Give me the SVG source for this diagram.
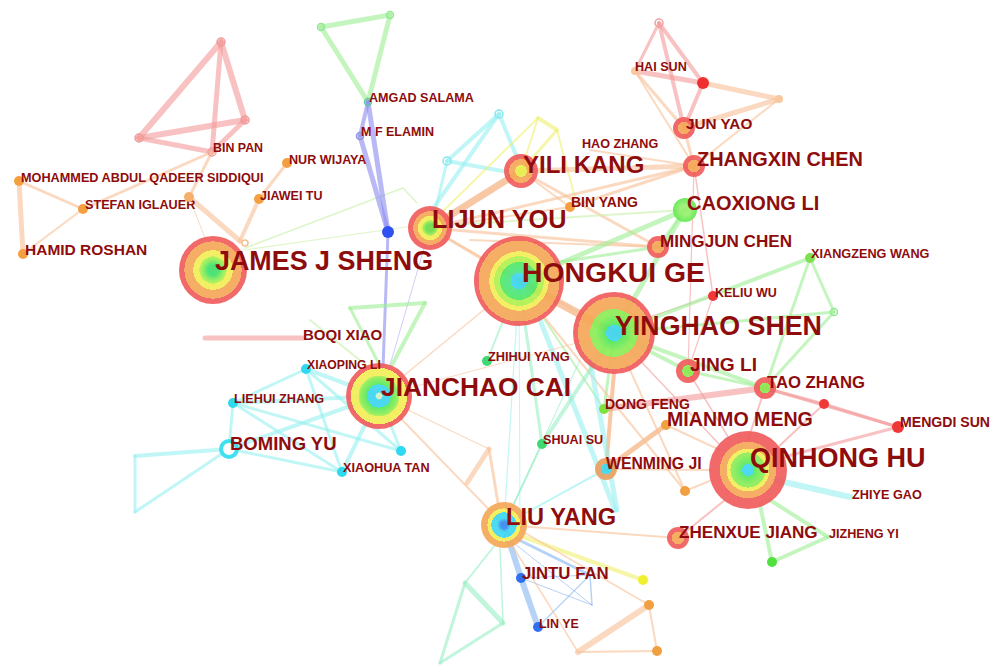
<svg xmlns="http://www.w3.org/2000/svg" width="998" height="666" viewBox="0 0 998 666">
<style>
text{font-family:"Liberation Sans",Arial,sans-serif;font-weight:bold;fill:#8e0c0c}
#edges line,#edges polyline{stroke-linecap:round;fill:none;opacity:0.6}
.pk{stroke:#f39a9a}.or{stroke:#f8c096}.gr{stroke:#9eee94}.cy{stroke:#98f0f0}.bl{stroke:#8a8af0}.mt{stroke:#98eec4}.yl{stroke:#f0f070}.lb{stroke:#86b4f0}.lg{stroke:#c8f0a8}.pu{stroke:#b8a8f0}.dor{stroke:#f2a466}
.big{opacity:0.92}
</style>
<defs>
<radialGradient id="gHK"><stop offset="0.18" stop-color="#3ed6f0"/><stop offset="0.18" stop-color="#4ee48a"/><stop offset="0.42" stop-color="#52e860"/><stop offset="0.42" stop-color="#b2f050"/><stop offset="0.55" stop-color="#b2f050"/><stop offset="0.55" stop-color="#f2ee58"/><stop offset="0.66" stop-color="#f2ee58"/><stop offset="0.66" stop-color="#f5a758"/><stop offset="0.9" stop-color="#f5a758"/><stop offset="0.9" stop-color="#f05c5c"/><stop offset="1" stop-color="#f05c5c"/></radialGradient>
<radialGradient id="gYS"><stop offset="0.2" stop-color="#3ed6f0"/><stop offset="0.2" stop-color="#52e860"/><stop offset="0.45" stop-color="#8cec56"/><stop offset="0.58" stop-color="#8cec56"/><stop offset="0.58" stop-color="#f5a758"/><stop offset="0.88" stop-color="#f5a758"/><stop offset="0.88" stop-color="#f05c5c"/><stop offset="1" stop-color="#f05c5c"/></radialGradient>
<radialGradient id="gQH"><stop offset="0.15" stop-color="#3ed6f0"/><stop offset="0.15" stop-color="#52e860"/><stop offset="0.38" stop-color="#8cec56"/><stop offset="0.45" stop-color="#8cec56"/><stop offset="0.45" stop-color="#f2ee58"/><stop offset="0.55" stop-color="#f2ee58"/><stop offset="0.55" stop-color="#f5a758"/><stop offset="0.72" stop-color="#f5a758"/><stop offset="0.72" stop-color="#f05c5c"/><stop offset="1" stop-color="#f05c5c"/></radialGradient>
<radialGradient id="gJS"><stop offset="0.15" stop-color="#3ee06a"/><stop offset="0.3" stop-color="#8cec56"/><stop offset="0.4" stop-color="#b8f050"/><stop offset="0.4" stop-color="#f2ee58"/><stop offset="0.58" stop-color="#f2ee58"/><stop offset="0.58" stop-color="#f5a758"/><stop offset="0.84" stop-color="#f5a758"/><stop offset="0.84" stop-color="#f05c5c"/><stop offset="1" stop-color="#f05c5c"/></radialGradient>
<radialGradient id="gJC"><stop offset="0.08" stop-color="#d8f0c8"/><stop offset="0.12" stop-color="#3ed6f0"/><stop offset="0.35" stop-color="#3ed6f0"/><stop offset="0.35" stop-color="#52e860"/><stop offset="0.55" stop-color="#8cec56"/><stop offset="0.62" stop-color="#b8f050"/><stop offset="0.62" stop-color="#f2ee58"/><stop offset="0.85" stop-color="#f2ee58"/><stop offset="0.85" stop-color="#f05c5c"/><stop offset="1" stop-color="#f05c5c"/></radialGradient>
<radialGradient id="gLY"><stop offset="0.2" stop-color="#6ee050"/><stop offset="0.35" stop-color="#b8f050"/><stop offset="0.35" stop-color="#f2ee58"/><stop offset="0.55" stop-color="#f2ee58"/><stop offset="0.55" stop-color="#f5a758"/><stop offset="0.76" stop-color="#f5a758"/><stop offset="0.76" stop-color="#f05c5c"/><stop offset="1" stop-color="#f05c5c"/></radialGradient>
<radialGradient id="gYK"><stop offset="0.35" stop-color="#e8f050"/><stop offset="0.35" stop-color="#f5a758"/><stop offset="0.7" stop-color="#f5a758"/><stop offset="0.7" stop-color="#f05c5c"/><stop offset="1" stop-color="#f05c5c"/></radialGradient>
<radialGradient id="gLU"><stop offset="0.15" stop-color="#3a8ef0"/><stop offset="0.3" stop-color="#3ed6f0"/><stop offset="0.55" stop-color="#3ed6f0"/><stop offset="0.55" stop-color="#f2ee58"/><stop offset="0.72" stop-color="#f2ee58"/><stop offset="0.72" stop-color="#f5a758"/><stop offset="1" stop-color="#f5a758"/></radialGradient>
<radialGradient id="gRO"><stop offset="0.35" stop-color="#f5a758"/><stop offset="0.55" stop-color="#f5a758"/><stop offset="0.55" stop-color="#f05c5c"/><stop offset="1" stop-color="#f05c5c"/></radialGradient>
<radialGradient id="gRG"><stop offset="0.5" stop-color="#8ce850"/><stop offset="0.5" stop-color="#f05c5c"/><stop offset="1" stop-color="#f05c5c"/></radialGradient>
<radialGradient id="gG"><stop offset="0.4" stop-color="#9af070"/><stop offset="1" stop-color="#5ee850"/></radialGradient>
<radialGradient id="gWJ"><stop offset="0.5" stop-color="#3ed6f0"/><stop offset="0.5" stop-color="#e8a060"/><stop offset="1" stop-color="#e8a060"/></radialGradient>
</defs>
<rect width="998" height="666" fill="#ffffff"/>
<g id="edges">
<line class="pk" x1="221" y1="42" x2="245" y2="120" stroke-width="6"/>
<line class="pk" x1="221" y1="42" x2="139" y2="138" stroke-width="6"/>
<line class="pk" x1="221" y1="42" x2="212" y2="152" stroke-width="5"/>
<line class="pk" x1="139" y1="138" x2="245" y2="120" stroke-width="6"/>
<line class="pk" x1="139" y1="138" x2="212" y2="152" stroke-width="5"/>
<line class="pk" x1="245" y1="120" x2="212" y2="152" stroke-width="5"/>
<line class="or" x1="212" y1="152" x2="83" y2="209" stroke-width="3"/>
<line class="or" x1="212" y1="152" x2="189" y2="197" stroke-width="3"/>
<line class="or" x1="189" y1="197" x2="240" y2="241" stroke-width="5"/>
<line class="or" x1="189" y1="197" x2="205" y2="238" stroke-width="1"/>
<line class="or" x1="19" y1="181" x2="83" y2="209" stroke-width="3"/>
<line class="or" x1="19" y1="181" x2="23" y2="254" stroke-width="5"/>
<line class="or" x1="83" y1="209" x2="23" y2="254" stroke-width="2"/>
<line class="or" x1="287" y1="163" x2="259" y2="199" stroke-width="3"/>
<line class="or" x1="259" y1="199" x2="240" y2="241" stroke-width="4"/>
<polyline class="lg" points="245,248 403,188 417,203" stroke-width="1.5"/>
<line class="lg" x1="245" y1="250" x2="420" y2="225" stroke-width="1.2"/>
<line class="gr" x1="321" y1="27" x2="390" y2="15" stroke-width="5"/>
<line class="gr" x1="390" y1="15" x2="368" y2="102" stroke-width="5"/>
<line class="gr" x1="368" y1="102" x2="321" y2="27" stroke-width="5"/>
<line class="bl" x1="368" y1="102" x2="360" y2="136" stroke-width="4"/>
<line class="bl" x1="368" y1="102" x2="388" y2="232" stroke-width="5"/>
<line class="bl" x1="360" y1="136" x2="388" y2="232" stroke-width="5"/>
<line class="bl" x1="388" y1="232" x2="383" y2="368" stroke-width="3"/>
<line class="pu" x1="425" y1="245" x2="388" y2="372" stroke-width="1"/>
<line class="cy" x1="499" y1="114" x2="447" y2="161" stroke-width="4"/>
<line class="cy" x1="499" y1="114" x2="432" y2="210" stroke-width="4"/>
<line class="cy" x1="499" y1="114" x2="518" y2="160" stroke-width="4"/>
<line class="cy" x1="447" y1="161" x2="436" y2="208" stroke-width="3"/>
<line class="cy" x1="447" y1="161" x2="508" y2="172" stroke-width="4"/>
<line class="yl" x1="538" y1="118" x2="557" y2="130" stroke-width="4"/>
<line class="yl" x1="538" y1="118" x2="432" y2="222" stroke-width="2"/>
<line class="yl" x1="557" y1="130" x2="521" y2="171" stroke-width="3"/>
<line class="yl" x1="557" y1="130" x2="575" y2="198" stroke-width="2"/>
<line class="yl" x1="538" y1="118" x2="521" y2="171" stroke-width="2"/>
<line class="dor" x1="430" y1="228" x2="521" y2="171" stroke-width="7"/>
<line class="or" x1="521" y1="171" x2="694" y2="166" stroke-width="5"/>
<line class="or" x1="430" y1="228" x2="694" y2="166" stroke-width="3"/>
<line class="or" x1="430" y1="228" x2="570" y2="207" stroke-width="2"/>
<line class="or" x1="521" y1="171" x2="570" y2="207" stroke-width="2"/>
<line class="or" x1="570" y1="207" x2="694" y2="166" stroke-width="3"/>
<line class="or" x1="521" y1="171" x2="658" y2="247" stroke-width="3"/>
<line class="or" x1="430" y1="228" x2="658" y2="247" stroke-width="3"/>
<line class="or" x1="590" y1="150" x2="694" y2="166" stroke-width="2"/>
<line class="or" x1="694" y1="166" x2="684" y2="128" stroke-width="3"/>
<line class="or" x1="694" y1="166" x2="779" y2="99" stroke-width="2"/>
<line class="or" x1="684" y1="128" x2="779" y2="99" stroke-width="5"/>
<line class="or" x1="684" y1="128" x2="635" y2="71" stroke-width="3"/>
<line class="or" x1="635" y1="71" x2="694" y2="166" stroke-width="2"/>
<line class="or" x1="703" y1="83" x2="779" y2="99" stroke-width="5"/>
<line class="pk" x1="635" y1="71" x2="703" y2="83" stroke-width="5"/>
<line class="pk" x1="659" y1="23" x2="635" y2="71" stroke-width="3"/>
<line class="pk" x1="659" y1="23" x2="703" y2="83" stroke-width="4"/>
<line class="pk" x1="659" y1="23" x2="684" y2="128" stroke-width="4"/>
<line class="pk" x1="703" y1="83" x2="684" y2="128" stroke-width="4"/>
<line class="pk" x1="694" y1="166" x2="713" y2="296" stroke-width="1.5"/>
<line class="pk" x1="694" y1="166" x2="688" y2="371" stroke-width="1.2"/>
<line class="pk" x1="713" y1="296" x2="688" y2="371" stroke-width="1.2"/>
<line class="pk" x1="713" y1="296" x2="640" y2="320" stroke-width="1.2"/>
<line class="or" x1="470" y1="240" x2="658" y2="247" stroke-width="2"/>
<line class="gr" x1="519" y1="281" x2="685" y2="210" stroke-width="5"/>
<line class="gr" x1="614" y1="333" x2="685" y2="210" stroke-width="5"/>
<line class="gr" x1="540" y1="265" x2="658" y2="247" stroke-width="3"/>
<line class="gr" x1="685" y1="210" x2="658" y2="247" stroke-width="3"/>
<line class="lg" x1="450" y1="225" x2="685" y2="210" stroke-width="2"/>
<line class="gr" x1="614" y1="333" x2="810" y2="258" stroke-width="4"/>
<line class="gr" x1="810" y1="258" x2="834" y2="312" stroke-width="3"/>
<line class="gr" x1="810" y1="258" x2="765" y2="388" stroke-width="3"/>
<line class="gr" x1="834" y1="312" x2="765" y2="388" stroke-width="3"/>
<line class="gr" x1="614" y1="333" x2="834" y2="312" stroke-width="3"/>
<line class="gr" x1="614" y1="333" x2="688" y2="371" stroke-width="4"/>
<line class="gr" x1="614" y1="333" x2="765" y2="388" stroke-width="4"/>
<line class="gr" x1="688" y1="371" x2="765" y2="388" stroke-width="3"/>
<line class="gr" x1="614" y1="333" x2="604" y2="409" stroke-width="3"/>
<line class="gr" x1="519" y1="281" x2="604" y2="409" stroke-width="2"/>
<line class="pk" x1="765" y1="388" x2="824" y2="404" stroke-width="3"/>
<line class="pk" x1="765" y1="388" x2="898" y2="427" stroke-width="3"/>
<line class="pk" x1="824" y1="404" x2="898" y2="427" stroke-width="3"/>
<line class="pk" x1="824" y1="404" x2="775" y2="450" stroke-width="2"/>
<line class="pk" x1="898" y1="427" x2="780" y2="458" stroke-width="3"/>
<line class="pk" x1="765" y1="388" x2="748" y2="440" stroke-width="2"/>
<line class="pk" x1="765" y1="388" x2="604" y2="409" stroke-width="6"/>
<line class="pk" x1="688" y1="371" x2="730" y2="440" stroke-width="1.5"/>
<line class="pk" x1="614" y1="333" x2="720" y2="445" stroke-width="1.5"/>
<line class="cy" x1="775" y1="480" x2="850" y2="497" stroke-width="6"/>
<line class="gr" x1="760" y1="505" x2="772" y2="562" stroke-width="4"/>
<line class="gr" x1="770" y1="500" x2="828" y2="537" stroke-width="4"/>
<line class="gr" x1="828" y1="537" x2="772" y2="562" stroke-width="4"/>
<line class="pk" x1="725" y1="500" x2="678" y2="538" stroke-width="2"/>
<line class="or" x1="666" y1="425" x2="720" y2="450" stroke-width="2"/>
<line class="or" x1="606" y1="469" x2="712" y2="470" stroke-width="2"/>
<line class="or" x1="685" y1="491" x2="712" y2="480" stroke-width="2"/>
<line class="dor" x1="606" y1="469" x2="666" y2="425" stroke-width="5"/>
<line class="dor" x1="614" y1="372" x2="606" y2="469" stroke-width="4"/>
<line class="or" x1="630" y1="370" x2="685" y2="491" stroke-width="2"/>
<line class="or" x1="545" y1="318" x2="685" y2="491" stroke-width="2"/>
<line class="cy" x1="606" y1="469" x2="504" y2="525" stroke-width="2"/>
<line class="or" x1="504" y1="525" x2="678" y2="538" stroke-width="2"/>
<line class="cy" x1="540" y1="320" x2="615" y2="510" stroke-width="5"/>
<line class="cy" x1="590" y1="360" x2="617" y2="510" stroke-width="5"/>
<line class="cy" x1="519" y1="281" x2="504" y2="525" stroke-width="1.2"/>
<line class="cy" x1="519" y1="281" x2="520" y2="520" stroke-width="1"/>
<line class="mt" x1="519" y1="281" x2="542" y2="444" stroke-width="3"/>
<line class="mt" x1="614" y1="333" x2="542" y2="444" stroke-width="4"/>
<line class="mt" x1="542" y1="444" x2="504" y2="525" stroke-width="2"/>
<line class="mt" x1="519" y1="281" x2="487" y2="361" stroke-width="2"/>
<line class="mt" x1="580" y1="360" x2="504" y2="525" stroke-width="1.2"/>
<line class="or" x1="519" y1="281" x2="379" y2="396" stroke-width="1.5"/>
<line class="or" x1="614" y1="333" x2="379" y2="396" stroke-width="1"/>
<line class="dor" x1="519" y1="281" x2="614" y2="333" stroke-width="8"/>
<line class="or" x1="430" y1="228" x2="519" y2="281" stroke-width="3"/>
<line class="or" x1="430" y1="228" x2="614" y2="333" stroke-width="2"/>
<line class="or" x1="379" y1="396" x2="504" y2="525" stroke-width="2"/>
<line class="or" x1="379" y1="396" x2="489" y2="449" stroke-width="1.2"/>
<line class="or" x1="489" y1="449" x2="467" y2="483" stroke-width="5"/>
<line class="or" x1="489" y1="449" x2="498" y2="503" stroke-width="3"/>
<line class="gr" x1="350" y1="308" x2="425" y2="303" stroke-width="4"/>
<line class="gr" x1="425" y1="303" x2="392" y2="365" stroke-width="4"/>
<line class="gr" x1="350" y1="308" x2="380" y2="366" stroke-width="3"/>
<line class="lg" x1="310" y1="320" x2="372" y2="370" stroke-width="2"/>
<line class="pk" x1="205" y1="338" x2="303" y2="338" stroke-width="5"/>
<line class="cy" x1="379" y1="396" x2="306" y2="369" stroke-width="4"/>
<line class="cy" x1="379" y1="396" x2="233" y2="403" stroke-width="4"/>
<line class="cy" x1="379" y1="396" x2="229" y2="449" stroke-width="4"/>
<line class="cy" x1="379" y1="396" x2="342" y2="472" stroke-width="4"/>
<line class="cy" x1="379" y1="396" x2="401" y2="451" stroke-width="3"/>
<line class="cy" x1="306" y1="369" x2="233" y2="403" stroke-width="3"/>
<line class="cy" x1="306" y1="369" x2="342" y2="472" stroke-width="3"/>
<line class="cy" x1="306" y1="369" x2="401" y2="451" stroke-width="3"/>
<line class="cy" x1="233" y1="403" x2="229" y2="449" stroke-width="3"/>
<line class="cy" x1="233" y1="403" x2="401" y2="451" stroke-width="3"/>
<line class="cy" x1="229" y1="449" x2="342" y2="472" stroke-width="3"/>
<line class="cy" x1="233" y1="403" x2="342" y2="472" stroke-width="3"/>
<line class="cy" x1="229" y1="449" x2="135" y2="456" stroke-width="4"/>
<line class="cy" x1="135" y1="456" x2="135" y2="512" stroke-width="3"/>
<line class="cy" x1="135" y1="512" x2="229" y2="449" stroke-width="3"/>
<line class="lb" x1="504" y1="525" x2="521" y2="578" stroke-width="6"/>
<line class="lb" x1="521" y1="578" x2="538" y2="627" stroke-width="6"/>
<line class="lb" x1="521" y1="578" x2="590" y2="575" stroke-width="1"/>
<line class="lb" x1="521" y1="578" x2="592" y2="605" stroke-width="1"/>
<line class="lb" x1="590" y1="575" x2="592" y2="605" stroke-width="1.5"/>
<line class="lb" x1="538" y1="627" x2="590" y2="575" stroke-width="1.2"/>
<line class="lb" x1="515" y1="538" x2="590" y2="575" stroke-width="3"/>
<line class="lb" x1="510" y1="540" x2="592" y2="605" stroke-width="1"/>
<line class="yl" x1="518" y1="535" x2="643" y2="580" stroke-width="4"/>
<line class="or" x1="520" y1="530" x2="649" y2="605" stroke-width="1.5"/>
<line class="or" x1="649" y1="605" x2="657" y2="651" stroke-width="2"/>
<line class="or" x1="657" y1="651" x2="578" y2="652" stroke-width="2"/>
<line class="or" x1="578" y1="652" x2="649" y2="605" stroke-width="6"/>
<line class="or" x1="512" y1="545" x2="578" y2="652" stroke-width="1.5"/>
<line class="mt" x1="495" y1="545" x2="465" y2="583" stroke-width="2"/>
<line class="mt" x1="465" y1="583" x2="503" y2="623" stroke-width="5"/>
<line class="mt" x1="503" y1="623" x2="440" y2="663" stroke-width="3"/>
<line class="mt" x1="465" y1="583" x2="440" y2="663" stroke-width="3"/>
<line class="mt" x1="500" y1="548" x2="503" y2="623" stroke-width="1.5"/>
</g>
<g id="n-hamid-roshan"><circle cx="23" cy="254" r="5" fill="#f5a040"/><text x="25" y="255" font-size="15.5">HAMID ROSHAN</text></g>
<g id="n-mohammed"><circle cx="19" cy="181" r="5" fill="#f5a040"/><text x="21" y="182" font-size="12.7">MOHAMMED ABDUL QADEER SIDDIQUI</text></g>
<g id="n-stefan-iglauer"><circle cx="83" cy="209" r="5" fill="#f5a040"/><text x="85" y="209" font-size="12.65">STEFAN IGLAUER</text></g>
<g id="n-o1"><circle cx="189" cy="197" r="5" fill="#f5b070"/></g>
<g id="n-bin-pan"><circle cx="212" cy="152" r="4" fill="none" stroke="#f0a0a0" stroke-width="1.5"/><text x="213" y="152" font-size="12.4">BIN PAN</text></g>
<g id="n-p1"><circle cx="221" cy="42" r="4" fill="none" stroke="#f09a9a" stroke-width="1.5"/></g>
<g id="n-p2"><circle cx="245" cy="120" r="4" fill="none" stroke="#f09a9a" stroke-width="1.5"/></g>
<g id="n-p3"><circle cx="139" cy="138" r="4" fill="none" stroke="#f09a9a" stroke-width="1.5"/></g>
<g id="n-nur-wijaya"><circle cx="287" cy="163" r="5" fill="#f5a040"/><text x="289" y="164" font-size="12.6">NUR WIJAYA</text></g>
<g id="n-jiawei-tu"><circle cx="259" cy="199" r="5" fill="#f5a040"/><text x="260" y="200" font-size="12.5">JIAWEI TU</text></g>
<g id="n-o2"><circle cx="245" cy="243" r="3" fill="none" stroke="#f5c090" stroke-width="1.5"/></g>
<g id="n-g1"><circle cx="321" cy="27" r="3.5" fill="none" stroke="#90e890" stroke-width="1.5"/></g>
<g id="n-g2"><circle cx="390" cy="15" r="3.5" fill="none" stroke="#90e890" stroke-width="1.5"/></g>
<g id="n-amgad-salama"><circle cx="368" cy="102" r="3.5" fill="none" stroke="#60c8a0" stroke-width="1.5"/><text x="369" y="102" font-size="12.6">AMGAD SALAMA</text></g>
<g id="n-m-f-elamin"><circle cx="360" cy="136" r="3.5" fill="none" stroke="#9090e0" stroke-width="1.5"/><text x="361" y="136" font-size="12.5">M F ELAMIN</text></g>
<g id="n-b1"><circle cx="388" cy="232" r="6" fill="#3050f0"/></g>
<g id="n-james-j-sheng"><circle class="big" cx="213" cy="270" r="34" fill="url(#gJS)"/><text x="215" y="270" font-size="26.9">JAMES J SHENG</text></g>
<g id="n-c1"><circle cx="499" cy="114" r="4" fill="none" stroke="#80e8f0" stroke-width="1.5"/></g>
<g id="n-c2"><circle cx="447" cy="161" r="4" fill="none" stroke="#80e8f0" stroke-width="1.5"/></g>
<g id="n-lijun-you"><circle class="big" cx="430" cy="228" r="22" fill="url(#gLY)"/><text x="432" y="228" font-size="25.3">LIJUN YOU</text></g>
<g id="n-yili-kang"><circle class="big" cx="521" cy="171" r="17" fill="url(#gYK)"/><text x="523" y="173" font-size="24">YILI KANG</text></g>
<g id="n-hao-zhang"><text x="582" y="148" font-size="12.6">HAO ZHANG</text></g>
<g id="n-bin-yang"><circle cx="570" cy="207" r="5" fill="#f5a040"/><text x="571" y="207" font-size="14">BIN YANG</text></g>
<g id="n-p4"><circle cx="659" cy="23" r="4" fill="none" stroke="#f0a0a0" stroke-width="1.5"/></g>
<g id="n-hai-sun"><circle cx="635" cy="71" r="4" fill="#f8c8a0"/><text x="635" y="71" font-size="12.6">HAI SUN</text></g>
<g id="n-r1"><circle cx="703" cy="83" r="6" fill="#f03030"/></g>
<g id="n-o3"><circle cx="779" cy="99" r="4" fill="#f8c8a0"/></g>
<g id="n-jun-yao"><circle class="big" cx="684" cy="128" r="11" fill="url(#gRO)"/><text x="686" y="129" font-size="15.3">JUN YAO</text></g>
<g id="n-zhangxin-chen"><circle class="big" cx="694" cy="166" r="11" fill="url(#gRO)"/><text x="697" y="166" font-size="19.9">ZHANGXIN CHEN</text></g>
<g id="n-caoxiong-li"><circle class="big" cx="685" cy="210" r="12" fill="url(#gG)"/><text x="687" y="210" font-size="20">CAOXIONG LI</text></g>
<g id="n-mingjun-chen"><circle class="big" cx="658" cy="247" r="11" fill="url(#gRO)"/><text x="660" y="247" font-size="17.1">MINGJUN CHEN</text></g>
<g id="n-xiangzeng-wang"><circle cx="810" cy="258" r="5" fill="#7ee050"/><text x="811" y="258" font-size="12.7">XIANGZENG WANG</text></g>
<g id="n-g3"><circle cx="834" cy="312" r="3.5" fill="none" stroke="#90e890" stroke-width="1.5"/></g>
<g id="n-keliu-wu"><circle cx="713" cy="296" r="5" fill="#f03838"/><text x="715" y="297" font-size="12.5">KELIU WU</text></g>
<g id="n-hongkui-ge"><circle class="big" cx="519" cy="281" r="45" fill="url(#gHK)"/><text x="522" y="282" font-size="28.4">HONGKUI GE</text></g>
<g id="n-yinghao-shen"><circle class="big" cx="614" cy="333" r="41" fill="url(#gYS)"/><text x="615" y="335" font-size="26.8">YINGHAO SHEN</text></g>
<g id="n-jing-li"><circle class="big" cx="688" cy="371" r="12" fill="url(#gRG)"/><text x="690" y="371" font-size="19.2">JING LI</text></g>
<g id="n-tao-zhang"><circle class="big" cx="765" cy="388" r="11" fill="url(#gRG)"/><text x="767" y="388" font-size="16.7">TAO ZHANG</text></g>
<g id="n-r2"><circle cx="824" cy="404" r="5" fill="#f03838"/></g>
<g id="n-mengdi-sun"><circle cx="898" cy="427" r="6" fill="#f03838"/><text x="900" y="427" font-size="14.1">MENGDI SUN</text></g>
<g id="n-dong-feng"><circle cx="604" cy="409" r="5" fill="#80e040"/><text x="605" y="409" font-size="14">DONG FENG</text></g>
<g id="n-mianmo-meng"><circle cx="666" cy="425" r="5" fill="#f0a040"/><text x="667" y="426" font-size="19.6">MIANMO MENG</text></g>
<g id="n-shuai-su"><circle cx="542" cy="444" r="5" fill="#40d870"/><text x="543" y="444" font-size="12.6">SHUAI SU</text></g>
<g id="n-zhihui-yang"><circle cx="487" cy="361" r="5" fill="#40d870"/><text x="488" y="361" font-size="12.8">ZHIHUI YANG</text></g>
<g id="n-wenming-ji"><circle class="big" cx="606" cy="469" r="11" fill="url(#gWJ)"/><text x="606" y="469" font-size="15.8">WENMING JI</text></g>
<g id="n-o4"><circle cx="685" cy="491" r="5" fill="#f0a040"/></g>
<g id="n-qinhong-hu"><circle class="big" cx="748" cy="470" r="39" fill="url(#gQH)"/><text x="750" y="467" font-size="27">QINHONG HU</text></g>
<g id="n-zhiye-gao"><text x="852" y="499" font-size="12.7">ZHIYE GAO</text></g>
<g id="n-jizheng-yi"><text x="829" y="538" font-size="12.6">JIZHENG YI</text></g>
<g id="n-g4"><circle cx="772" cy="562" r="5" fill="#50e040"/></g>
<g id="n-zhenxue-jiang"><circle class="big" cx="678" cy="538" r="11" fill="url(#gRO)"/><text x="679" y="538" font-size="17.1">ZHENXUE JIANG</text></g>
<g id="n-jianchao-cai"><circle class="big" cx="379" cy="396" r="33" fill="url(#gJC)"/><text x="381" y="396" font-size="26.3">JIANCHAO CAI</text></g>
<g id="n-boqi-xiao"><text x="303" y="340" font-size="15">BOQI XIAO</text></g>
<g id="n-xiaoping-li"><circle cx="306" cy="369" r="5" fill="#30d8f0"/><text x="307" y="369" font-size="12.2">XIAOPING LI</text></g>
<g id="n-liehui-zhang"><circle cx="233" cy="403" r="5" fill="#30d8f0"/><text x="234" y="403" font-size="12.7">LIEHUI ZHANG</text></g>
<g id="n-boming-yu"><circle cx="229" cy="449" r="8" fill="#ffffff" stroke="#40e0f0" stroke-width="4"/><text x="230" y="450" font-size="18.5">BOMING YU</text></g>
<g id="n-xiaohua-tan"><circle cx="342" cy="472" r="5" fill="#30d8f0"/><text x="343" y="472" font-size="12.7">XIAOHUA TAN</text></g>
<g id="n-c3"><circle cx="401" cy="451" r="5" fill="#30d8f0"/></g>
<g id="n-liu-yang"><circle class="big" cx="504" cy="525" r="23" fill="url(#gLU)"/><text x="506" y="525" font-size="23.6">LIU YANG</text></g>
<g id="n-jintu-fan"><circle cx="521" cy="578" r="5" fill="#3070f0"/><text x="522" y="579" font-size="16.8">JINTU FAN</text></g>
<g id="n-lin-ye"><circle cx="538" cy="627" r="5" fill="#3070f0"/><text x="539" y="628" font-size="12.4">LIN YE</text></g>
<g id="n-y1"><circle cx="643" cy="580" r="5" fill="#f0f030"/></g>
<g id="n-o5"><circle cx="649" cy="605" r="5" fill="#f0a040"/></g>
<g id="n-o6"><circle cx="657" cy="651" r="5" fill="#f0a040"/></g>
</svg>
